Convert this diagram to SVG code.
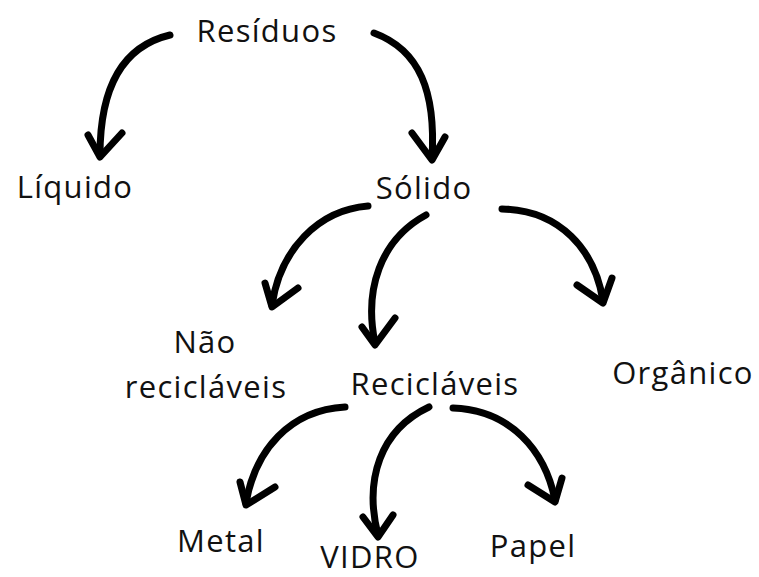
<svg xmlns="http://www.w3.org/2000/svg" width="759" height="577" viewBox="0 0 759 577">
<style>
.bg{fill:#ffffff}
.lbl{font-family:"Open Sans","Noto Sans","Liberation Sans",sans-serif;font-size:31px;fill:#111111;text-anchor:middle;letter-spacing:1.3px}
.arr{fill:none;stroke:#000000;stroke-width:7;stroke-linecap:round;stroke-linejoin:round}
</style>
<rect class="bg" x="0" y="0" width="759" height="577"/>
<g id="connectors">
  <path class="arr" d="M170,35 C128,45 100,80 100,155"/>
  <path class="arr" d="M88,135 L100,157 L122,133"/>
  <path class="arr" d="M374,33 C420,50 436,92 432,158"/>
  <path class="arr" d="M412,133 L432,160 L445,137"/>
  <path class="arr" d="M368,206 C318,210 280,250 272,305"/>
  <path class="arr" d="M265,283 L272,307 L298,288"/>
  <path class="arr" d="M426,215 C380,240 364,290 375,343"/>
  <path class="arr" d="M362,327 L375,345 L395,318"/>
  <path class="arr" d="M502,209 C560,210 595,250 603,301"/>
  <path class="arr" d="M577,285 L603,303 L612,278"/>
  <path class="arr" d="M345,407 C290,410 255,450 246,503"/>
  <path class="arr" d="M240,482 L246,505 L275,487"/>
  <path class="arr" d="M429,407 C380,430 364,480 378,535"/>
  <path class="arr" d="M363,517 L378,537 L393,515"/>
  <path class="arr" d="M453,408 C510,410 545,450 555,500"/>
  <path class="arr" d="M528,485 L555,502 L562,478"/>
</g>
<g id="residuos"><text class="lbl" x="267" y="42">Resíduos</text></g>
<g id="liquido"><text class="lbl" x="75" y="198">Líquido</text></g>
<g id="solido"><text class="lbl" x="424" y="199">Sólido</text></g>
<g id="nao-reciclaveis"><text class="lbl" x="205" y="353">Não</text><text class="lbl" x="206" y="398">recicláveis</text></g>
<g id="reciclaveis"><text class="lbl" x="435" y="395">Recicláveis</text></g>
<g id="organico"><text class="lbl" x="683" y="384">Orgânico</text></g>
<g id="metal"><text class="lbl" x="221" y="552">Metal</text></g>
<g id="vidro"><text class="lbl" x="370" y="568">VIDRO</text></g>
<g id="papel"><text class="lbl" x="533" y="557">Papel</text></g>
</svg>
